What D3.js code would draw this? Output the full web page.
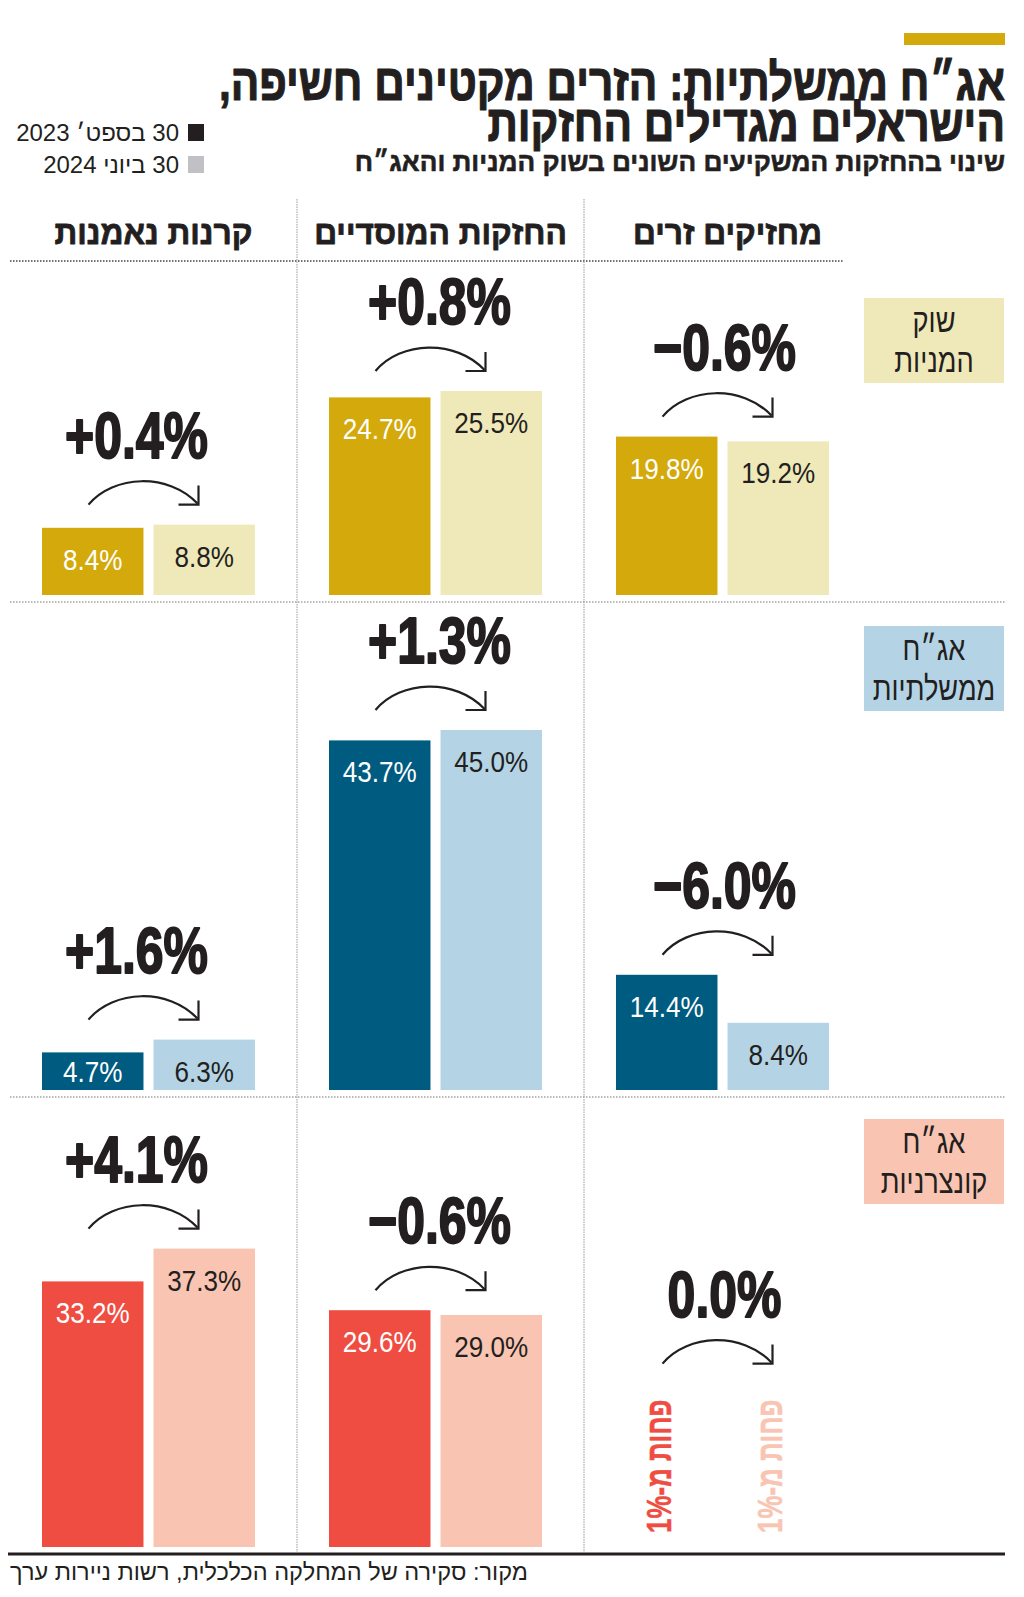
<!DOCTYPE html>
<html><head><meta charset="utf-8">
<script src="https://cdn.jsdelivr.net/npm/d3@7"></script>
<style>
html,body{margin:0;padding:0;background:#fff;}
svg{display:block;}
</style></head><body>
<svg id="chart" width="1024" height="1597"></svg>
<script>
// ---------- DATA ----------
const columns = ["מחזיקים זרים", "החזקות המוסדיים", "קרנות נאמנות"]; // right → left
const rowLabels = [["שוק", "המניות"], ["אג״ח", "ממשלתיות"], ["אג״ח", "קונצרניות"]];
const series = ["30 בספט׳ 2023", "30 ביוני 2024"];
const stocksSep2023 = [19.8, 24.7, 8.4];
const stocksJun2024 = [19.2, 25.5, 8.8];
const govSep2023 = [14.4, 43.7, 4.7];
const govJun2024 = [8.4, 45.0, 6.3];
const corpSep2023 = [null, 29.6, 33.2];   // null = "less than 1%"
const corpJun2024 = [null, 29.0, 37.3];
const stocksChange = [-0.6, 0.8, 0.4];
const govChange = [-6.0, 1.3, 1.6];
const corpChange = [0.0, -0.6, 4.1];
const belowLabel = "פחות מ-1%";
const titleLines = ["אג״ח ממשלתיות: הזרים מקטינים חשיפה,", "הישראלים מגדילים החזקות"];
const subtitle = "שינוי בהחזקות המשקיעים השונים בשוק המניות והאג״ח";
const sourceText = "מקור: סקירה של המחלקה הכלכלית, רשות ניירות ערך";

// ---------- STYLE ----------
const rowColors = [["#d4a90b", "#efe8b8"], ["#005b80", "#b4d4e6"], ["#f04d42", "#f9c5b2"]];
const legendColors = ["#231f20", "#c1c1c5"];
const INK = "#231f20";
const HEB = "'Liberation Sans', 'DejaVu Sans', sans-serif";
const NUM = "'Liberation Sans', 'DejaVu Sans', sans-serif";

const rows = [
  { label: rowLabels[0], a: stocksSep2023, b: stocksJun2024, ch: stocksChange },
  { label: rowLabels[1], a: govSep2023, b: govJun2024, ch: govChange },
  { label: rowLabels[2], a: corpSep2023, b: corpJun2024, ch: corpChange }
];

// ---------- LAYOUT ----------
const svg = d3.select("#chart");
const rowTops = [261, 602, 1097];
const baselines = [595, 1090, 1547];
const boxOffsets = [37, 24, 22];

const xOuter = d3.scaleBand().domain(columns.slice().reverse()).range([10, 871]).paddingInner(0);
const pairW = 213;
const pairOffset = 32;
const labelShift = [2, 4, -12]; // per column (right → left) nudge of the change labels
const xInner = d3.scaleBand().domain(series).range([0, pairW]).paddingInner(0.09);
const h = d3.scaleLinear().domain([0, 45]).range([0, 360]);

function txt(parent, x, y, str, o) {
  const g = parent.append("g").attr("transform", `translate(${x},${y})${o.rot ? ` rotate(${o.rot})` : ""} scale(${o.sx || 1},1)`);
  const t = g.append("text").text(str)
    .attr("font-size", o.size).attr("font-weight", o.weight || "normal")
    .attr("font-family", o.family || HEB).attr("fill", o.fill || INK)
    .attr("text-anchor", o.anchor || "middle");
  if (o.rtl) t.attr("direction", "rtl").style("unicode-bidi", "embed");
  if (o.db) t.attr("dominant-baseline", o.db);
  if (o.stroke) t.attr("stroke", o.fill || INK).attr("stroke-width", o.stroke).attr("stroke-linejoin", "round");
  return t;
}

// top gold bar
svg.append("rect").attr("x", 904).attr("y", 33).attr("width", 101).attr("height", 12).attr("fill", "#d4a90b");

// titles
titleLines.forEach((l, i) => txt(svg, 1005, 100 + i * 41, l, { size: 51, weight: "bold", rtl: true, anchor: "start", sx: 0.83, stroke: 1.2 }));
txt(svg, 1005, 171, subtitle, { size: 27, weight: "bold", rtl: true, anchor: "start", sx: 0.97, stroke: 0.6 });

// legend
series.forEach((s, i) => {
  svg.append("rect").attr("x", 188).attr("y", 124 + i * 32).attr("width", 16).attr("height", 17).attr("fill", legendColors[i]);
  txt(svg, 179, 141 + i * 32, s, { size: 24, rtl: true, anchor: "start", sx: 1.0 });
});

// column headers
columns.forEach(c => {
  txt(svg, xOuter(c) + xOuter.bandwidth() / 2, 244, c, { size: 33, weight: "bold", rtl: true, sx: 0.96, stroke: 0.8 });
});

// header dotted line
svg.append("line").attr("x1", 10).attr("x2", 843).attr("y1", 261).attr("y2", 261)
  .attr("stroke", "#444").attr("stroke-width", 1.5).attr("stroke-dasharray", "1.5,1.5");
// row dotted lines
rowTops.slice(1).forEach(y => svg.append("line").attr("x1", 10).attr("x2", 1005).attr("y1", y).attr("y2", y)
  .attr("stroke", "#777").attr("stroke-width", 1.2).attr("stroke-dasharray", "1.5,1.5"));
// column separators
columns.slice(0, 2).forEach(c => {
  const x = xOuter(c);
  svg.append("line").attr("x1", x).attr("x2", x).attr("y1", 199).attr("y2", 1552)
    .attr("stroke", "#999").attr("stroke-width", 1).attr("stroke-dasharray", "1.5,1");
});
// bottom solid line
svg.append("line").attr("x1", 8).attr("x2", 1005).attr("y1", 1554).attr("y2", 1554).attr("stroke", INK).attr("stroke-width", 3);

// source
txt(svg, 528, 1580, sourceText, { size: 24, rtl: true, anchor: "start", sx: 0.98 });

const arrowCurve = "M-110,0 C-85,-30 -30,-32 -1,-1";
const arrowHead = "M0,-19 V0 H-20";
const fmtChange = v => (v === 0 ? "0.0" : d3.format("+.1f")(v)) + "%";

rows.forEach((row, r) => {
  const base = baselines[r];
  const g = svg.append("g");
  // row label box
  const by = rowTops[r] + boxOffsets[r];
  g.append("rect").attr("x", 864).attr("y", by).attr("width", 140).attr("height", 85).attr("fill", rowColors[r][1]);
  row.label.forEach((l, i) => txt(g, 934, by + 34 + i * 40, l, { size: 34, rtl: true, sx: 0.8 }));

  columns.forEach((c, ci) => {
    const px = xOuter(c) + pairOffset;
    const vals = [row.a[ci], row.b[ci]];
    let top = base;
    vals.forEach((v, si) => {
      const bx = px + xInner(series[si]);
      const bw = xInner.bandwidth();
      const col = rowColors[r][si];
      if (v != null) {
        const y = base - h(v);
        g.append("rect").attr("x", bx).attr("y", y).attr("width", bw).attr("height", h(v)).attr("fill", col);
        txt(g, bx + bw / 2, Math.min(y + 42, base - 8), d3.format(".1f")(v) + "%",
          { size: 29, family: NUM, fill: si === 0 ? "#fff" : INK, sx: 0.9 });
        top = Math.min(top, y);
      } else {
        const sx = 0.74;
        const t = txt(g, bx + bw / 2 - 8, base - 14, belowLabel,
          { size: 35, weight: "bold", rtl: true, anchor: "end", rot: -90, sx: sx, fill: col, db: "central", stroke: 0.5 });
        const len = t.node().getComputedTextLength() * sx;
        top = Math.min(top, base - 14 - len - 16);
      }
    });
    const tipX = px + pairW / 2 + 50;
    const tipY = top - 20;
    const ag = g.append("g").attr("transform", `translate(${tipX},${tipY})`);
    ag.append("path").attr("d", arrowCurve).attr("fill", "none").attr("stroke", INK).attr("stroke-width", 2.2);
    ag.append("path").attr("d", arrowHead).attr("fill", "none").attr("stroke", INK).attr("stroke-width", 2.2);
    txt(g, px + pairW / 2 + labelShift[ci], tipY - 47, fmtChange(row.ch[ci]),
      { size: 64, weight: "bold", family: NUM, sx: 0.78, stroke: 2 });
  });
});
</script>
</body></html>
